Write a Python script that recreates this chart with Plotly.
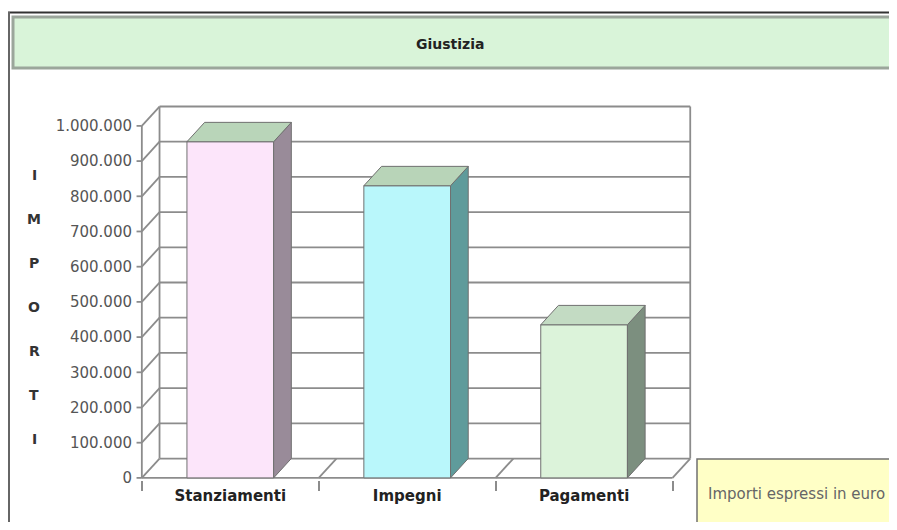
import plotly.graph_objects as go

# dati
categorie = ["Stanziamenti", "Impegni", "Pagamenti"]
importi = [955000, 830000, 435000]
tick_valori = [0, 100000, 200000, 300000, 400000, 500000, 600000, 700000, 800000, 900000, 1000000]
titolo = "Giustizia"
titolo_asse = "IMPORTI"
nota = "Importi espressi in euro"

col_fronte = ["#fce5fa", "#b9f7fb", "#dcf3da"]
col_lato = ["#998b99", "#5f9b9b", "#7c8f7f"]
col_sopra = ["#b9d5b9", "#b8d4b8", "#c3dbc3"]

# profondita' della finta prospettiva 3D (in unita' degli assi)
dx = 0.1
dy = 55000
w = 0.49
grid_col = "#8c8c8c"
FONT = "DejaVu Sans, Verdana, sans-serif"

# la pagina html ha 8px di margine nel body: la figura e' piu' piccola e spostata
OFF = 8
W, H = 897 - 2 * OFF, 530 - 2 * OFF
ml, mt = 133 - OFF, 103 - OFF
pw, ph = 559, 377
mr, mb = W - ml - pw, H - mt - ph


def px(x):
    # coordinate in pixel della pagina -> paper
    return (x - OFF - ml) / pw


def py(y):
    return (mt + ph - (y - OFF)) / ph


fig = go.Figure()

# faccia frontale delle colonne
fig.add_trace(go.Bar(x=list(range(len(categorie))), y=importi, width=w,
                     marker=dict(color=col_fronte, line=dict(color="#707070", width=1)),
                     hoverinfo="skip"))

# facce laterali e superiori
for i, v in enumerate(importi):
    xl, xr = i - w / 2, i + w / 2
    fig.add_trace(go.Scatter(x=[xr, xr + dx, xr + dx, xr, xr], y=[0, dy, v + dy, v, 0],
                             fill="toself", fillcolor=col_lato[i], mode="lines",
                             line=dict(color="#707070", width=1), hoverinfo="skip"))
    fig.add_trace(go.Scatter(x=[xl, xl + dx, xr + dx, xr, xl], y=[v, v + dy, v + dy, v, v],
                             fill="toself", fillcolor=col_sopra[i], mode="lines",
                             line=dict(color="#707070", width=1), hoverinfo="skip"))

n = len(categorie)
x0, x1 = -0.5, n - 0.5
shapes = []
ln = dict(color=grid_col, width=1.8)
# parete di fondo e parete laterale
for v in tick_valori:
    shapes.append(dict(type="line", xref="x", yref="y", x0=x0 + dx, x1=x1 + dx, y0=v + dy, y1=v + dy, line=ln, layer="below"))
    shapes.append(dict(type="line", xref="x", yref="y", x0=x0, x1=x0 + dx, y0=v, y1=v + dy, line=ln, layer="below"))
    shapes.append(dict(type="line", xref="x", yref="y", x0=x0 - 0.03, x1=x0, y0=v, y1=v, line=ln, layer="below"))
vmax = tick_valori[-1]
shapes.append(dict(type="line", xref="x", yref="y", x0=x0 + dx, x1=x0 + dx, y0=dy, y1=vmax + dy, line=ln, layer="below"))
shapes.append(dict(type="line", xref="x", yref="y", x0=x1 + dx, x1=x1 + dx, y0=dy, y1=vmax + dy, line=ln, layer="below"))
shapes.append(dict(type="line", xref="x", yref="y", x0=x0, x1=x0, y0=0, y1=vmax, line=ln, layer="below"))
# pavimento
shapes.append(dict(type="line", xref="x", yref="y", x0=x0, x1=x1, y0=0, y1=0, line=ln, layer="below"))
for b in [i + 0.5 for i in range(n)]:
    shapes.append(dict(type="line", xref="x", yref="y", x0=b, x1=b + dx, y0=0, y1=dy, line=ln, layer="below"))

# cornice e riquadro del titolo
shapes.append(dict(type="line", xref="paper", yref="paper", x0=px(0), x1=px(910), y0=py(12.5), y1=py(12.5),
                   line=dict(color="#333333", width=2)))
shapes.append(dict(type="line", xref="paper", yref="paper", x0=px(9), x1=px(9), y0=py(12), y1=py(540),
                   line=dict(color="#666666", width=2)))
shapes.append(dict(type="rect", xref="paper", yref="paper", x0=px(13), x1=px(910), y0=py(17), y1=py(68),
                   fillcolor="#d9f4d9", line=dict(color="#9ba69b", width=3)))
# riquadro della nota
shapes.append(dict(type="rect", xref="paper", yref="paper", x0=px(697), x1=px(910), y0=py(459), y1=py(528),
                   fillcolor="#ffffc6", line=dict(color="#707070", width=1.5)))

annotations = [
    dict(text="<b>" + titolo + "</b>", xref="paper", yref="paper", x=px(450), y=py(44),
         xanchor="center", yanchor="middle", showarrow=False,
         font=dict(family=FONT, size=14, color="#222222")),
    dict(text=nota, xref="paper", yref="paper", x=px(706), y=py(494),
         xanchor="left", yanchor="middle", showarrow=False,
         font=dict(family=FONT, size=15, color="#666666")),
]
for k, lettera in enumerate(titolo_asse):
    annotations.append(dict(text="<b>" + lettera + "</b>", xref="paper", yref="paper",
                            x=px(34), y=py(175 + k * 44), xanchor="center", yanchor="middle",
                            showarrow=False, font=dict(family=FONT, size=14, color="#333333")))

fig.update_layout(
    width=W, height=H,
    margin=dict(l=ml, r=mr, t=mt, b=mb, pad=0),
    paper_bgcolor="white", plot_bgcolor="rgba(0,0,0,0)",
    showlegend=False,
    separators=",.",
    font=dict(family=FONT),
    shapes=shapes,
    annotations=annotations,
    xaxis=dict(range=[-0.55, 2.61], showgrid=False, zeroline=False, showline=False,
               tickvals=list(range(n)), ticktext=["<b>" + c + "</b>" for c in categorie],
               ticks="outside", ticklen=2, tickcolor="rgba(0,0,0,0)",
               tickfont=dict(family=FONT, size=15, color="#222222"),
               minor=dict(tickvals=[i - 0.5 for i in range(n + 1)], ticks="outside",
                          ticklen=10, tickcolor=grid_col, tickwidth=1.5, showgrid=False)),
    yaxis=dict(range=[-6000, 1065000], showgrid=False, zeroline=False, showline=False,
               tickvals=tick_valori, tickformat=",d", ticks="",
               tickfont=dict(family=FONT, size=15, color="#555555")),
)

fig.write_html("out.html")
